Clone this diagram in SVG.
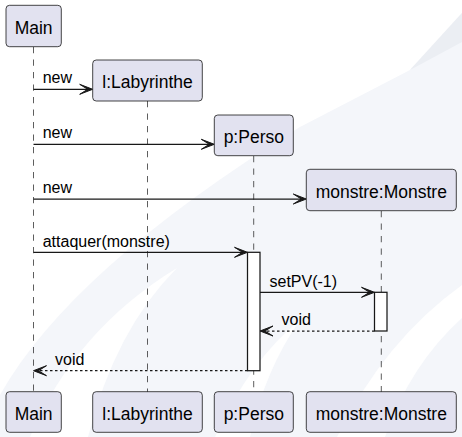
<svg xmlns="http://www.w3.org/2000/svg" width="462" height="437" viewBox="0 0 462 437">
<style>
.bg{fill:#F4F6FA}
.bg2{fill:#EBEEF3}
.box{fill:#E2E2F0;stroke:#181818;stroke-width:0.8}
.pt{font-family:"Liberation Sans",Arial,sans-serif;font-size:17.5px;fill:#000;text-anchor:middle}
.mt{font-family:"Liberation Sans",Arial,sans-serif;font-size:16px;fill:#000}
.life{stroke:#181818;stroke-width:0.7;stroke-dasharray:6.25,6.25;fill:none}
.msg{stroke:#181818;stroke-width:1.25;fill:none}
.ret{stroke:#181818;stroke-width:1.25;stroke-dasharray:2.5,2.5;fill:none}
.head{fill:#181818;stroke:#181818;stroke-width:1}
.act{fill:#FFFFFF;stroke:#181818;stroke-width:1.25}
</style>
<defs>
<path id="hr" d="M0,0 L-13,-5 L-5,0 L-13,5 Z"/>
<path id="hl" d="M0,0 L13,-5 L5,0 L13,5 Z"/>
</defs>
<rect width="462" height="437" fill="#FFFFFF"/>
<g id="background">
<path class="bg" d="M462,13 L462,437 L0,437 L0,395 Q70,270 300,127 L410,70 Z"/>
<path class="bg2" d="M462,13 L410,70 L462,42 Z"/>
<path fill="#FFFFFF" d="M30,437 Q75,330 177,268 Q115,330 88,437 Z"/>
<path fill="#FFFFFF" d="M215,437 Q250,360 300,320 Q265,370 250,437 Z"/>
<path fill="#FFFFFF" d="M337,437 Q385,340 462,285 L462,318 Q410,365 385,437 Z"/>
</g>
<g id="lifelines">
<line class="life" x1="33.5" y1="47" x2="33.5" y2="392"/>
<line class="life" x1="147.5" y1="101" x2="147.5" y2="392"/>
<line class="life" x1="253.7" y1="156" x2="253.7" y2="392"/>
<line class="life" x1="381.3" y1="211" x2="381.3" y2="392"/>
</g>
<g id="activations">
<rect class="act" x="247.5" y="252.3" width="12.5" height="118.4"/>
<rect class="act" x="374.5" y="292.3" width="12.5" height="38.7"/>
</g>
<g id="connectors">
<line class="msg" x1="33.5" y1="89.3" x2="90" y2="89.3"/>
<use href="#hr" x="92.7" y="89.3" class="head"/>
<text class="mt" x="42.7" y="83.3">new</text>
<line class="msg" x1="33.5" y1="144.3" x2="212" y2="144.3"/>
<use href="#hr" x="214.3" y="144.3" class="head"/>
<text class="mt" x="42.7" y="138.3">new</text>
<line class="msg" x1="33.5" y1="199" x2="304" y2="199"/>
<use href="#hr" x="306.3" y="199" class="head"/>
<text class="mt" x="42.7" y="193">new</text>
<line class="msg" x1="33.5" y1="252.3" x2="245" y2="252.3"/>
<use href="#hr" x="247.5" y="252.3" class="head"/>
<text class="mt" x="42.7" y="246.5">attaquer(monstre)</text>
<line class="msg" x1="260" y1="292.3" x2="372" y2="292.3"/>
<use href="#hr" x="374.5" y="292.3" class="head"/>
<text class="mt" x="269.5" y="286.5">setPV(-1)</text>
<line class="ret" x1="374.5" y1="331" x2="262" y2="331"/>
<use href="#hl" x="260" y="331" class="head"/>
<text class="mt" x="281.5" y="325">void</text>
<line class="ret" x1="247.5" y1="370.7" x2="36" y2="370.7"/>
<use href="#hl" x="33.5" y="370.7" class="head"/>
<text class="mt" x="55" y="364.7">void</text>
</g>
<g id="main-top"><rect class="box" x="6" y="5.3" width="55.3" height="41.4" rx="3.5"/><text class="pt" x="33.6" y="33.6">Main</text></g>
<g id="labyrinthe-top"><rect class="box" x="92.7" y="60" width="109.6" height="41" rx="3.5"/><text class="pt" x="147.5" y="88.3">l:Labyrinthe</text></g>
<g id="perso-top"><rect class="box" x="214.3" y="115" width="79" height="40.7" rx="3.5"/><text class="pt" x="253.8" y="143.3">p:Perso</text></g>
<g id="monstre-top"><rect class="box" x="306.3" y="169.3" width="150" height="41.4" rx="3.5"/><text class="pt" x="381.3" y="197.6">monstre:Monstre</text></g>
<g id="main-bottom"><rect class="box" x="6" y="391.7" width="55.3" height="40.6" rx="3.5"/><text class="pt" x="33.6" y="419.5">Main</text></g>
<g id="labyrinthe-bottom"><rect class="box" x="92.7" y="391.7" width="109.6" height="40.6" rx="3.5"/><text class="pt" x="147.5" y="419.5">l:Labyrinthe</text></g>
<g id="perso-bottom"><rect class="box" x="214.3" y="391.7" width="79" height="40.6" rx="3.5"/><text class="pt" x="253.8" y="419.5">p:Perso</text></g>
<g id="monstre-bottom"><rect class="box" x="306.3" y="391.7" width="150" height="40.6" rx="3.5"/><text class="pt" x="381.3" y="419.5">monstre:Monstre</text></g>
</svg>
